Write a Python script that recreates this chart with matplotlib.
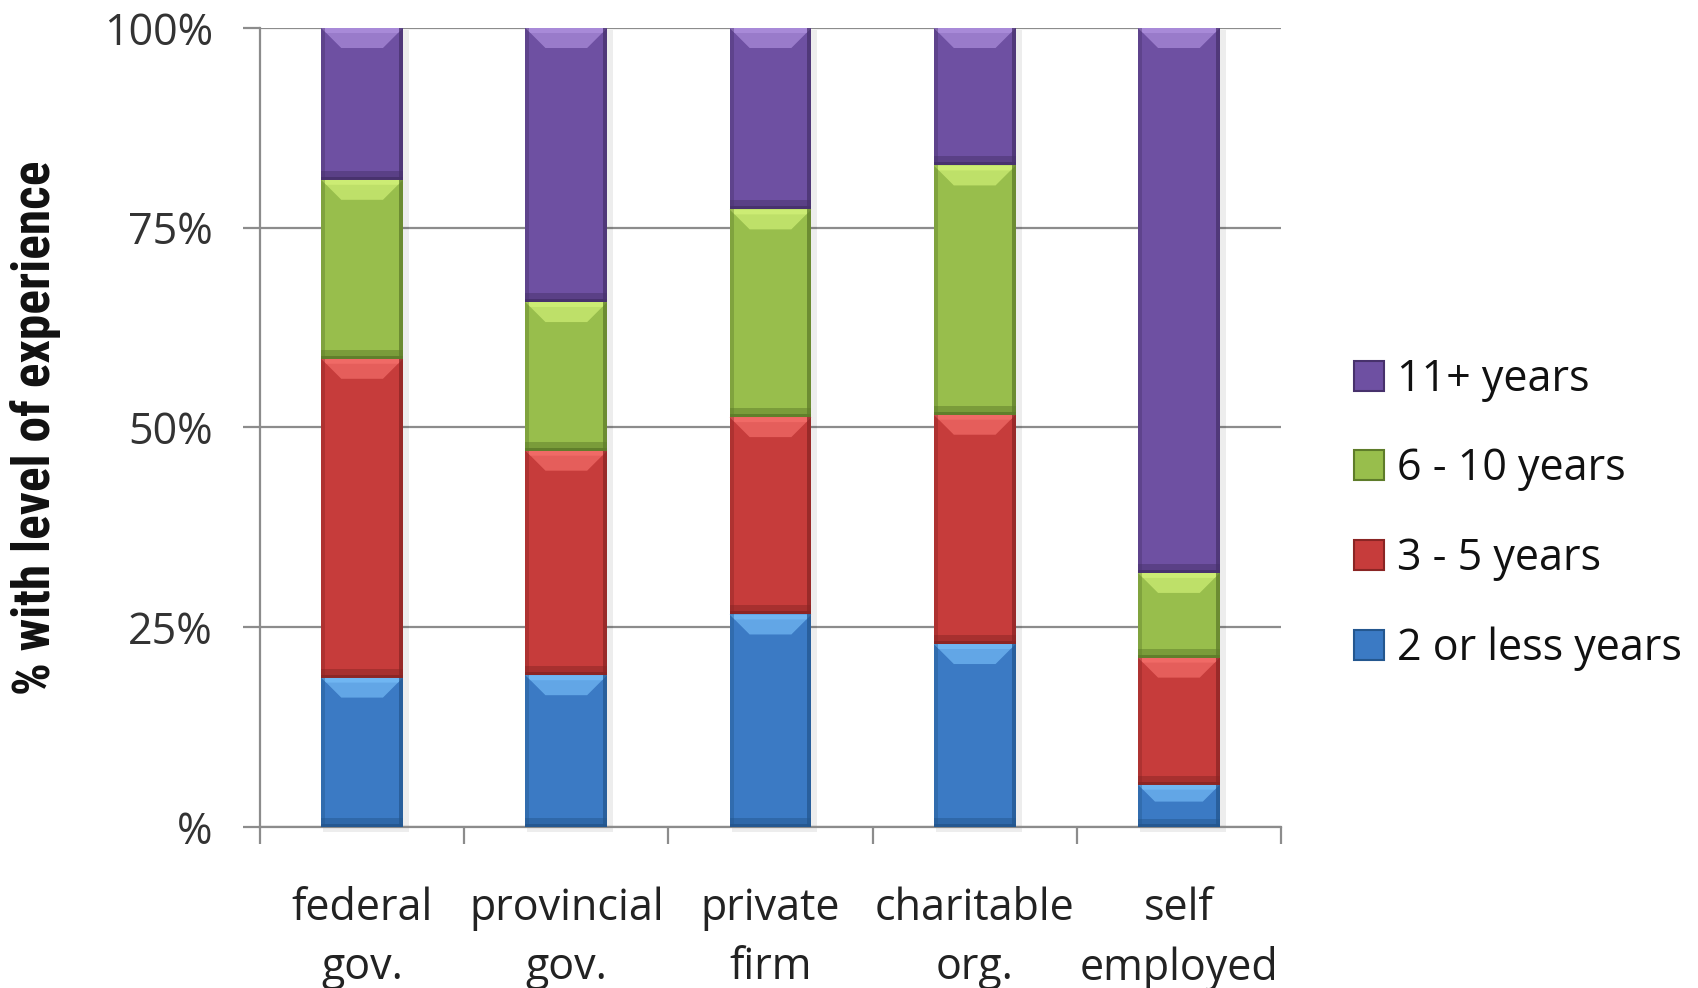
import matplotlib
matplotlib.use("Agg")
import matplotlib.pyplot as plt
from matplotlib.patches import Polygon, Patch, Rectangle
import numpy as np

categories = ["federal\ngov.", "provincial\ngov.", "private\nfirm", "charitable\norg.", "self\nemployed"]
series_names = ["2 or less years", "3 - 5 years", "6 - 10 years", "11+ years"]
less2 = [18.7, 19.0, 26.6, 22.9, 5.3]
y3_5 = [39.9, 28.1, 24.7, 28.7, 15.9]
y6_10 = [22.4, 18.6, 26.0, 31.2, 10.6]
y11p = [19.0, 34.3, 22.7, 17.2, 68.2]
ytick_vals = [0, 25, 50, 75, 100]
ytick_labels = ["%", "25%", "50%", "75%", "100%"]

main_cols = ["#3B7AC4", "#C63C3B", "#98BE4C", "#6E50A2"]
light_cols = ["#70B6F2", "#F06A66", "#CCEC74", "#A88AD8"]
dark_cols = ["#24578F", "#8A2524", "#5E7C2A", "#47316C"]

FONT = ["Open Sans", "DejaVu Sans"]
plt.rcParams['font.family'] = FONT

W, H = 1699, 988
fig = plt.figure(figsize=(W / 100, H / 100), dpi=100)
ax = fig.add_axes([260 / W, 1 - 827 / H, (1281 - 260) / W, (827 - 28) / H])
ax.set_xlim(-0.5, 4.5)
ax.set_ylim(0, 100)

x = np.arange(len(categories))
width = 0.4
data = [less2, y3_5, y6_10, y11p]

pxx = ax.get_position().width * W / 5.0
pxy = ax.get_position().height * H / 100.0

bottom = np.zeros(len(categories))
all_bars = []
for i, vals in enumerate(data):
    bars = ax.bar(x, vals, width, bottom=bottom, color=main_cols[i], edgecolor='none',
                  zorder=3, label=series_names[i])
    all_bars.append((i, bars))
    bottom = bottom + np.array(vals)

# soft shadow behind stacks
for xi, tot in zip(x, bottom):
    ax.add_patch(Rectangle((xi - width / 2 + 2 / pxx, -5 / pxy), width + 4 / pxx, tot + 3 / pxy,
                           facecolor="#000000", alpha=0.07, edgecolor='none', zorder=2,
                           clip_on=False))

# bevel overlays derived from bar patches
bt = 20
bb = 9
bs = 4
for i, bars in all_bars:
    for p in bars:
        x0 = p.get_x(); x1 = x0 + p.get_width()
        y0 = p.get_y(); y1 = y0 + p.get_height()
        hpx = (y1 - y0) * pxy
        t = min(bt, hpx * 0.4)
        dx = t / pxx; dy = t / pxy
        ax.add_patch(Polygon([(x0, y1), (x1, y1), (x1 - dx, y1 - dy), (x0 + dx, y1 - dy)],
                             closed=True, facecolor=light_cols[i], edgecolor='none',
                             alpha=0.75, zorder=4))
        t2 = min(5, hpx * 0.12) / pxy
        ax.add_patch(Polygon([(x0, y1), (x1, y1), (x1 - t2 * pxy / pxx, y1 - t2),
                              (x0 + t2 * pxy / pxx, y1 - t2)],
                             closed=True, facecolor=light_cols[i], edgecolor='none', zorder=4))
        b = min(bb, hpx * 0.2) / pxy
        ax.add_patch(Rectangle((x0, y0), x1 - x0, b, facecolor=dark_cols[i], edgecolor='none',
                               alpha=0.5, zorder=4))
        b2 = min(3, hpx * 0.08) / pxy
        ax.add_patch(Rectangle((x0, y0), x1 - x0, b2, facecolor=dark_cols[i], edgecolor='none',
                               alpha=0.9, zorder=4))
        s = bs / pxx
        ax.add_patch(Rectangle((x0, y0), s, y1 - y0, facecolor=dark_cols[i], edgecolor='none',
                               alpha=0.4, zorder=4))
        ax.add_patch(Rectangle((x1 - s, y0), s, y1 - y0, facecolor=dark_cols[i], edgecolor='none',
                               alpha=0.75, zorder=4))

ax.set_yticks(ytick_vals)
ax.set_yticklabels(ytick_labels, fontsize=31, color="#333333")
ax.yaxis.grid(True, color="#8C8C8C", linewidth=1.6, zorder=0)
ax.set_axisbelow(True)

ax.set_xticks(x)
ax.set_xticklabels(categories, fontsize=31, color="#222222", linespacing=1.42)
ax.tick_params(axis='x', which='major', length=0, pad=43)
ax.set_xticks(np.arange(-0.5, 5.0, 1.0), minor=True)
ax.tick_params(axis='x', which='minor', length=12, width=1.6, color="#8C8C8C", direction='out')
ax.tick_params(axis='y', length=12, width=1.6, color="#8C8C8C", direction='out', pad=22)

for sp in ['top', 'right']:
    ax.spines[sp].set_visible(False)
for sp in ['left', 'bottom']:
    ax.spines[sp].set_color("#8C8C8C")
    ax.spines[sp].set_linewidth(1.6)

fig.text(36 / W, 1 - 428 / H, "% with level of experience", rotation=90, fontsize=37,
         fontweight='bold', family=["Roboto Condensed", "Roboto", "DejaVu Sans"],
         ha='center', va='center', color="#111111")

handles = [Patch(facecolor=main_cols[i], edgecolor=dark_cols[i], linewidth=1.5) for i in range(3, -1, -1)]
labels = [series_names[i] for i in range(3, -1, -1)]
fig.legend(handles, labels, loc='center left', bbox_to_anchor=(1354 / W, 1 - 514 / H),
           frameon=False, fontsize=31, handlelength=0.7, handleheight=0.7,
           handletextpad=0.3, labelspacing=1.05, borderpad=0, borderaxespad=0,
           labelcolor="#111111")

fig.savefig("out.png", dpi=100)
